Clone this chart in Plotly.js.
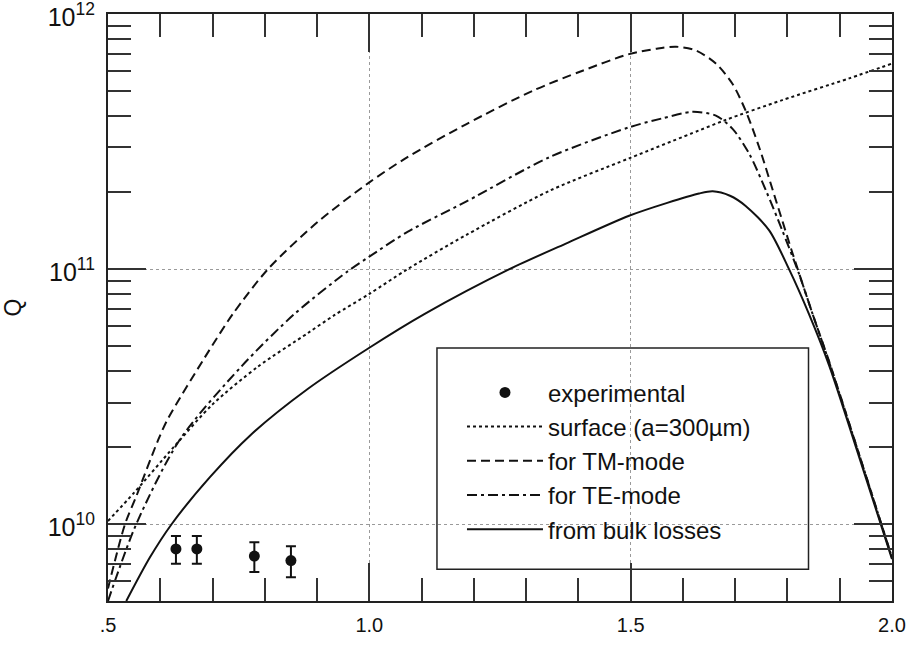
<!DOCTYPE html>
<html>
<head>
<meta charset="utf-8">
<script src="https://cdn.plot.ly/plotly-3.0.1.min.js"></script>
<style>
  html, body { margin: 0; padding: 0; background: #fff; }
  #chart { width: 909px; height: 645px; }
</style>
</head>
<body>
<div id="chart"></div>
<script>
// ---- data ----
var xExp = [0.63, 0.67, 0.78, 0.85];
var qExp = [8.0e9, 8.0e9, 7.5e9, 7.2e9];
var qExpErr = [1.0e9, 1.0e9, 1.0e9, 1.0e9];

var xSurface = [0.5, 0.55, 0.627, 0.70, 0.787, 0.882, 0.933, 1.0, 1.073, 1.185, 1.345, 1.497, 1.631, 1.682, 1.79, 1.918, 2.0];
var qSurface = [1.03e10, 1.33e10, 2.02e10, 2.95e10, 4.15e10, 5.61e10, 6.6e10, 8.0e10, 1.0e11, 1.36e11, 2.03e11, 2.72e11, 3.5e11, 3.85e11, 4.6e11, 5.6e11, 6.4e11];

var xTM = [0.5, 0.5325, 0.555, 0.596, 0.615, 0.685, 0.739, 0.806, 0.901, 1.0, 1.073, 1.185, 1.313, 1.408, 1.497, 1.55, 1.587, 1.625, 1.663, 1.695, 1.72, 1.746, 1.778, 1.81, 1.848, 1.88, 1.94, 2.0];
var qTM = [5.6e9, 1.0e10, 1.3e10, 2.14e10, 2.6e10, 4.5e10, 6.68e10, 1.0e11, 1.53e11, 2.19e11, 2.75e11, 3.7e11, 5.01e11, 6.0e11, 6.97e11, 7.32e11, 7.45e11, 7.2e11, 6.4e11, 5.32e11, 4.18e11, 3.0e11, 1.86e11, 1.15e11, 6.68e10, 4.33e10, 1.8e10, 7.4e9];

var xTE = [0.5, 0.554, 0.637, 0.755, 0.857, 0.9585, 1.0, 1.073, 1.185, 1.345, 1.497, 1.56, 1.618, 1.663, 1.695, 1.727, 1.759, 1.79, 1.822, 1.848, 1.88, 1.94, 2.0];
var qTE = [5.0e9, 1.0e10, 2.14e10, 4.15e10, 6.68e10, 9.8e10, 1.12e11, 1.40e11, 1.84e11, 2.75e11, 3.6e11, 3.9e11, 4.14e11, 4.0e11, 3.55e11, 2.83e11, 2.03e11, 1.42e11, 9.6e10, 6.68e10, 4.3e10, 1.8e10, 7.4e9];

var xBulk = [0.535, 0.58, 0.6216, 0.695, 0.773, 0.882, 1.0, 1.106, 1.268, 1.376, 1.497, 1.57, 1.631, 1.657, 1.69, 1.72, 1.765, 1.803, 1.841, 1.88, 1.94, 2.0];
var qBulk = [5.0e9, 7.4e9, 1.0e10, 1.53e10, 2.24e10, 3.39e10, 4.92e10, 6.68e10, 1.0e11, 1.26e11, 1.62e11, 1.82e11, 1.98e11, 2.02e11, 1.94e11, 1.77e11, 1.42e11, 1.0e11, 6.68e10, 4.18e10, 1.76e10, 7.3e9];

var xLabelAlias = {'0.5': '.5'};
var legendNames = ['experimental', 'surface (a=300\u00b5m)', 'for TM-mode', 'for TE-mode', 'from bulk losses'];

// ---- chart ----
var ink = '#111';
var lineW = 2;
function curve(x, y, name, dash, g) {
  return {
    x: x, y: y, name: name, type: 'scatter', mode: 'lines',
    legendgroup: g,
    line: {color: ink, width: lineW, dash: dash, shape: 'spline', smoothing: 0.8},
    hoverinfo: 'skip'
  };
}

var traces = [
  {
    x: xExp, y: qExp, name: legendNames[0], type: 'scatter', mode: 'markers',
    legendgroup: 'a',
    marker: {color: ink, size: 11, symbol: 'circle'},
    error_y: {type: 'data', array: qExpErr, visible: true, color: ink, thickness: 2, width: 5}
  },
  curve(xSurface, qSurface, legendNames[1], '3px,3px', 'b'),
  curve(xTM, qTM, legendNames[2], '9px,5px', 'c'),
  curve(xTE, qTE, legendNames[3], '10px,4px,3px,4px', 'd'),
  curve(xBulk, qBulk, legendNames[4], 'solid', 'e')
];

var fam = 'Liberation Sans, Arial, sans-serif';
var axisCommon = {
  showline: true, linecolor: '#222', linewidth: 2, mirror: 'ticks',
  ticks: 'inside', ticklen: 38, tickwidth: 2, tickcolor: '#333',
  showgrid: true, gridcolor: '#9a9a9a', gridwidth: 1, griddash: 'dot',
  zeroline: false,
  tickfont: {family: fam, size: 20, color: '#111'}
};

var layout = {
  width: 909, height: 645,
  margin: {l: 108, r: 17, t: 14, b: 44},
  paper_bgcolor: '#fff', plot_bgcolor: '#fff',
  showlegend: true,
  font: {family: fam, color: '#111'},
  xaxis: Object.assign({}, axisCommon, {
    range: [0.5, 2.0], tickmode: 'linear', tick0: 0.5, dtick: 0.5,
    tickformat: '.1f', labelalias: xLabelAlias,
    ticklabelstandoff: 5,
    minor: {tickmode: 'linear', tick0: 0.5, dtick: 0.1, ticklen: 23, tickwidth: 2, tickcolor: '#333', ticks: 'inside', showgrid: false}
  }),
  yaxis: Object.assign({}, axisCommon, {
    type: 'log', range: [Math.log10(5e9), 12.0005], tickmode: 'linear', tick0: 0, dtick: 1,
    exponentformat: 'power', ticklabelstandoff: 7, ticklabeloverflow: 'allow', ticklabelshift: 3,
    minor: {dtick: 'D1', ticklen: 23, tickwidth: 2, tickcolor: '#333', ticks: 'inside', showgrid: false},
    title: {text: 'Q', font: {size: 23, family: fam, color: '#111'}, standoff: 22}
  }),
  legend: {
    x: 0.4515, y: 0.393, xanchor: 'left', yanchor: 'top',
    bgcolor: 'rgba(0,0,0,0)', borderwidth: 0,
    font: {size: 24, family: fam, color: '#111'},
    itemwidth: 76, tracegroupgap: 7,
    traceorder: 'normal'
  },
  shapes: [{
    type: 'rect', xref: 'paper', yref: 'paper',
    x0: 0.4196, x1: 0.8935, y0: 0.054, y1: 0.431,
    line: {color: '#222', width: 1.5}, fillcolor: 'rgba(255,255,255,1)', layer: 'below'
  }]
};

Plotly.newPlot('chart', traces, layout, {displayModeBar: false, staticPlot: true});
</script>
</body>
</html>
